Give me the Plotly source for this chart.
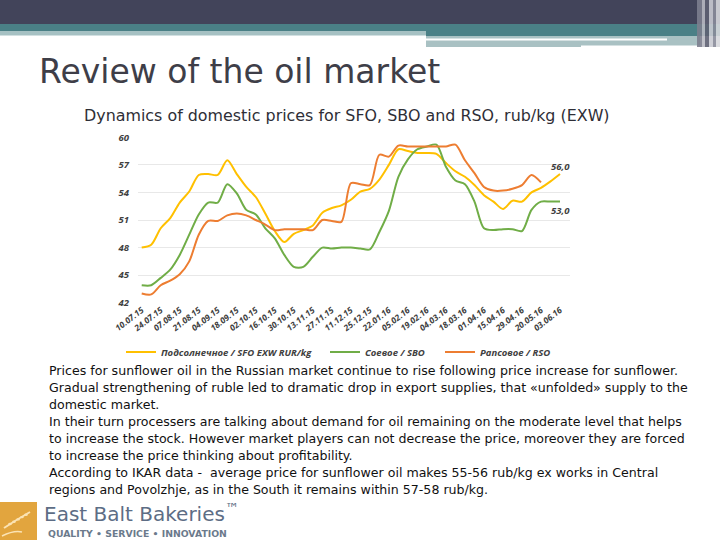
import plotly.graph_objects as go

W, H = 720, 540

dates = ["10.07.15","17.07.15","24.07.15","31.07.15","07.08.15","14.08.15","21.08.15","28.08.15",
         "04.09.15","11.09.15","18.09.15","25.09.15","02.10.15","09.10.15","16.10.15","23.10.15",
         "30.10.15","06.11.15","13.11.15","20.11.15","27.11.15","04.12.15","11.12.15","18.12.15",
         "25.12.15","15.01.16","22.01.16","29.01.16","05.02.16","12.02.16","19.02.16","26.02.16",
         "04.03.16","11.03.16","18.03.16","25.03.16","01.04.16","08.04.16","15.04.16","22.04.16",
         "29.04.16","13.05.16","20.05.16","27.05.16","03.06.16"]

tick_labels = ["10.07.15","24.07.15","07.08.15","21.08.15","04.09.15","18.09.15","02.10.15","16.10.15",
               "30.10.15","13.11.15","27.11.15","11.12.15","25.12.15","22.01.16","05.02.16","19.02.16",
               "04.03.16","18.03.16","01.04.16","15.04.16","29.04.16","20.05.16","03.06.16"]

sfo = [48.0, 48.3, 50.1, 51.2, 52.9, 54.1, 55.9, 56.0, 55.9, 57.5,
       56.0, 54.6, 53.5, 51.7, 49.8, 48.6, 49.5, 49.9, 50.4, 51.8,
       52.3, 52.6, 53.2, 54.1, 54.4, 55.4, 57.0, 58.7, 58.5, 58.3,
       58.3, 58.2, 57.2, 56.3, 55.7, 54.8, 53.7, 53.0, 52.2, 53.1,
       53.0, 54.0, 54.5, 55.2, 56.0]
sbo = [43.9, 43.9, 44.7, 45.6, 47.2, 49.4, 51.6, 52.9, 52.9, 54.9,
       53.9, 52.1, 51.6, 50.1, 49.0, 47.2, 45.9, 45.9, 47.0, 48.0,
       47.9, 48.0, 48.0, 47.9, 47.8, 49.7, 52.0, 55.7, 57.6, 58.7,
       59.0, 59.2, 56.8, 55.3, 54.9, 53.0, 50.1, 49.9, 50.0, 50.0,
       49.8, 52.1, 53.0, 53.0, 53.0]
rso = [43.0, 42.9, 43.9, 44.4, 45.1, 46.5, 49.4, 50.9, 50.9, 51.5,
       51.7, 51.5, 51.0, 50.5, 49.9, 50.0, 50.0, 50.0, 49.9, 51.0,
       50.9, 50.8, 55.0, 54.9, 54.8, 58.1, 57.9, 59.1, 59.0, 59.0,
       59.0, 59.0, 59.0, 59.2, 57.5, 56.1, 54.6, 54.2, 54.2, 54.4,
       54.8, 55.9, 55.1, None, None]

series_names = ["Подсолнечное / SFO EXW RUR/kg", "Соевое / SBO", "Рапсовое / RSO"]
series_colors = ["#FFC000", "#70AD47", "#ED7D31"]

title = "Review of the oil market"
subtitle = "Dynamics of domestic prices for SFO, SBO and RSO, rub/kg (EXW)"
paragraph = [
    "Prices for sunflower oil in the Russian market continue to rise following price increase for sunflower.",
    "Gradual strengthening of ruble led to dramatic drop in export supplies, that «unfolded» supply to the",
    "domestic market.",
    "In their turn processers are talking about demand for oil remaining on the moderate level that helps",
    "to increase the stock. However market players can not decrease the price, moreover they are forced",
    "to increase the price thinking about profitability.",
    "According to IKAR data -  average price for sunflower oil makes 55-56 rub/kg ex works in Central",
    "regions and Povolzhje, as in the South it remains within 57-58 rub/kg.",
]


def px(x):
    return x / W


def py(y):
    return 1 - y / H


def fmt(v):
    return f"{v:.1f}".replace(".", ",")


fig = go.Figure()

label_font = dict(family="Open Sans", size=9.5, color="#404040", weight="bold", style="italic")
legend_ids = ["legend", "legend2", "legend3"]

for vals, name, color, lg in zip([sfo, sbo, rso], series_names, series_colors, legend_ids):
    fig.add_trace(go.Scatter(x=dates, y=vals, name=name, mode="lines", legend=lg,
                             line=dict(color=color, width=2, shape="spline", smoothing=0.8),
                             cliponaxis=False))

shapes = []
# header bands
shapes.append(dict(type="rect", xref="paper", yref="paper", x0=0, x1=1, y0=py(24), y1=py(0),
                   fillcolor="#42445a", line_width=0, layer="below"))
shapes.append(dict(type="rect", xref="paper", yref="paper", x0=0, x1=1, y0=py(33), y1=py(24),
                   fillcolor="#4a8086", line_width=0, layer="below"))
shapes.append(dict(type="rect", xref="paper", yref="paper", x0=0, x1=px(426), y0=py(35.5), y1=py(31),
                   fillcolor="#a6c1c3", line_width=0, layer="below"))
shapes.append(dict(type="rect", xref="paper", yref="paper", x0=px(426), x1=1, y0=py(36), y1=py(33),
                   fillcolor="#4a8086", line_width=0, layer="below"))
shapes.append(dict(type="rect", xref="paper", yref="paper", x0=px(426), x1=px(700), y0=py(47), y1=py(36),
                   fillcolor="#a9c1c3", line_width=0, layer="below"))
shapes.append(dict(type="rect", xref="paper", yref="paper", x0=px(426), x1=px(667), y0=py(40.5), y1=py(38.5),
                   fillcolor="#ffffff", line_width=0, layer="below"))
shapes.append(dict(type="rect", xref="paper", yref="paper", x0=px(581), x1=px(700), y0=py(47), y1=py(45.5),
                   fillcolor="#ffffff", line_width=0, layer="below"))
# right vertical stripes
for x0, x1, c in [(697, 702, "#7c7e8e"), (702, 705, "#b8b9c2"), (705, 709, "#5e6072"),
                  (709, 713, "#c9cad1"), (713, 716, "#8a8c9a"), (716, 720, "#d7d8dd")]:
    shapes.append(dict(type="rect", xref="paper", yref="paper", x0=px(x0), x1=px(x1), y0=py(47), y1=py(0),
                       fillcolor=c, line_width=0, layer="below", opacity=0.9))
# logo square
shapes.append(dict(type="rect", xref="paper", yref="paper", x0=0, x1=px(37), y0=py(540), y1=py(502),
                   fillcolor="#e2a53e", line_width=0, layer="below"))
shapes.append(dict(type="path", xref="paper", yref="paper",
                   path=f"M {px(4)},{py(528)} Q {px(16)},{py(520)} {px(30)},{py(512)}",
                   line=dict(color="#fbe3b4", width=2)))
shapes.append(dict(type="path", xref="paper", yref="paper",
                   path=f"M {px(2)},{py(536)} Q {px(14)},{py(530)} {px(22)},{py(532)}",
                   line=dict(color="#fbe3b4", width=1.5)))
for k in range(5):
    cx = 10 + k * 4
    cy = 524 - k * 2.3
    shapes.append(dict(type="circle", xref="paper", yref="paper",
                       x0=px(cx - 1.8), x1=px(cx + 1.8), y0=py(cy + 1.2), y1=py(cy - 1.2),
                       fillcolor="#fbe3b4", line_width=0))

annotations = []
# end-point value labels, placed at the data points
annotations.append(dict(text=fmt(sfo[-1]), x=dates[-1], y=sfo[-1], xref="x", yref="y", yshift=8,
                        showarrow=False, font=label_font))
annotations.append(dict(text=fmt(sbo[-1]), x=dates[-1], y=sbo[-1], xref="x", yref="y", yshift=-9,
                        showarrow=False, font=label_font))
annotations.append(dict(text=title, xref="paper", yref="paper", x=px(37), y=py(72), xanchor="left",
                        yanchor="middle", showarrow=False,
                        font=dict(family="DejaVu Sans", size=33, color="#3e3e48")))
annotations.append(dict(text=subtitle, xref="paper", yref="paper", x=px(82), y=py(116), xanchor="left",
                        yanchor="middle", showarrow=False,
                        font=dict(family="DejaVu Sans", size=15.9, color="#2e2e36")))
line_y0 = 370
for k, line in enumerate(paragraph):
    annotations.append(dict(text=line, xref="paper", yref="paper", x=px(47), y=py(line_y0 + k * 17.0),
                            xanchor="left", yanchor="middle", showarrow=False,
                            font=dict(family="DejaVu Sans", size=12.6, color="#111111")))
annotations.append(dict(text="East Balt Bakeries<sup>™</sup>", xref="paper", yref="paper", x=px(42), y=py(513),
                        xanchor="left", yanchor="middle", showarrow=False,
                        font=dict(family="DejaVu Sans", size=20, color="#5d6d85")))
annotations.append(dict(text="QUALITY • SERVICE • INNOVATION", xref="paper", yref="paper", x=px(46), y=py(533),
                        xanchor="left", yanchor="middle", showarrow=False,
                        font=dict(family="DejaVu Sans", size=9.3, color="#6b7a8c", weight="bold")))

legend_font = dict(family="Open Sans", size=9.5, color="#404040", weight="bold", style="italic")
legend_x = [121, 325, 440]
legend_common = dict(orientation="h", y=py(352), xanchor="left", yanchor="middle", font=legend_font,
                     itemwidth=30, bgcolor="rgba(0,0,0,0)")

fig.update_layout(
    width=W, height=H,
    margin=dict(l=0, r=0, t=0, b=0, autoexpand=False),
    paper_bgcolor="white", plot_bgcolor="white",
    shapes=shapes, annotations=annotations,
    showlegend=True,
    legend=dict(x=px(legend_x[0]), **legend_common),
    legend2=dict(x=px(legend_x[1]), **legend_common),
    legend3=dict(x=px(legend_x[2]), **legend_common),
    xaxis=dict(type="category", categoryorder="array", categoryarray=dates,
               domain=[px(138), px(570)], range=[-0.39, 45.05], automargin=False,
               tickmode="array", tickvals=tick_labels, ticktext=tick_labels, tickangle=-38,
               showgrid=False, showline=False, zeroline=False, ticks="",
               tickfont=dict(family="Open Sans", size=8.5, color="#404040", weight="bold", style="italic")),
    yaxis=dict(domain=[py(302.7), py(137.3)], range=[42, 60], tick0=42, dtick=3, automargin=False,
               showgrid=True, gridcolor="#e8e8e8", gridwidth=1, zeroline=False, showline=False,
               ticks="", ticklabelstandoff=8,
               tickfont=dict(family="Open Sans", size=9.5, color="#404040", weight="bold", style="italic")),
)

fig.write_html("out.html", config={"displayModeBar": False},
               post_script="document.body.style.margin='0';document.body.style.overflow='hidden';")
